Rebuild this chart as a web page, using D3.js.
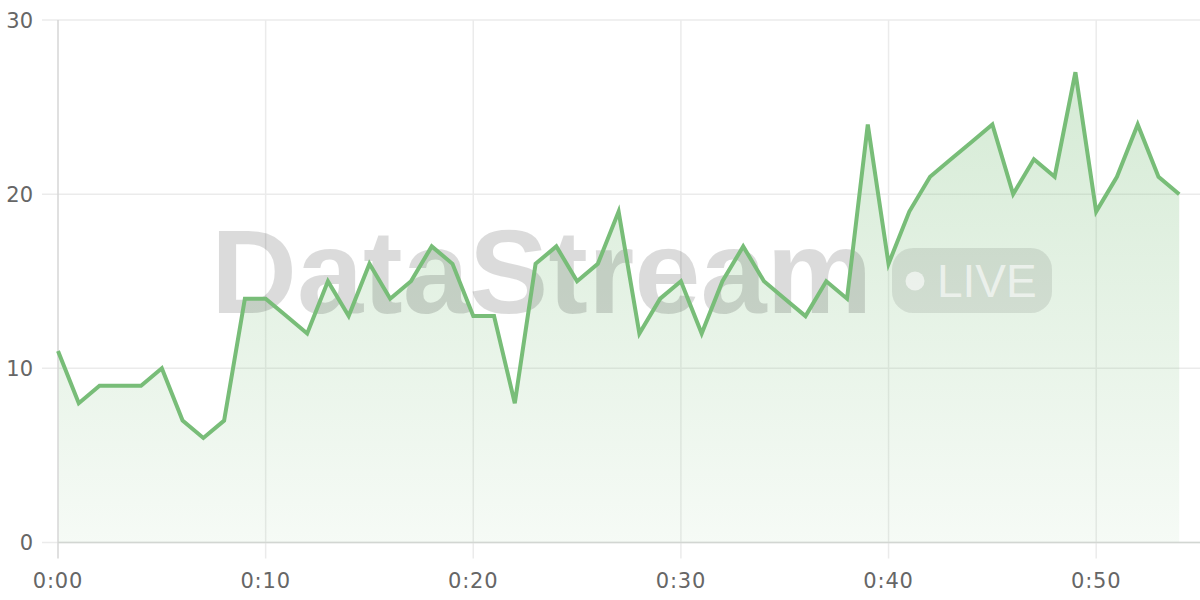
<!DOCTYPE html>
<html>
<head>
<meta charset="utf-8">
<script src="https://cdn.jsdelivr.net/npm/d3@7/dist/d3.min.js"></script>
<style>
html,body{margin:0;padding:0;background:#fff;}
svg{display:block;}
</style>
</head>
<body>
<svg id="chart" width="1200" height="600"></svg>
<script>
const minutes = d3.range(0, 55);
const values = [11,8,9,9,9,10,7,6,7,14,14,13,12,15,13,16,14,15,17,16,13,13,8,16,17,15,16,19,12,14,15,12,15,17,15,14,13,15,14,24,16,19,21,22,23,24,20,22,21,27,19,21,24,21,20];
const xTicks = [0,10,20,30,40,50];
const yTicks = [0,10,20,30];
const watermarkText = "DataStream";
const badgeText = "LIVE";

(function(){
const data = minutes.map((m,i)=>({m, v: values[i]}));
const svg = d3.select("#chart");
const mLeft = 58, mRight = 1200, mTop = 20, mBottom = 542.5;

const x = d3.scaleLinear().domain([0,55]).range([mLeft, mRight]);
const y = d3.scaleLinear().domain([0,30]).range([mBottom, mTop]);

const defs = svg.append("defs");
const grad = defs.append("linearGradient").attr("id","areaGrad")
  .attr("x1",0).attr("y1",0).attr("x2",0).attr("y2",1);
grad.append("stop").attr("offset","0%").attr("stop-color","#7cbf7c").attr("stop-opacity",0.32);
grad.append("stop").attr("offset","100%").attr("stop-color","#7cbf7c").attr("stop-opacity",0.07);

const font = "'DejaVu Sans', sans-serif";

// grid lines
svg.append("g").selectAll("line").data(yTicks).join("line")
  .attr("x1", 42).attr("x2", mRight)
  .attr("y1", d=>y(d)).attr("y2", d=>y(d))
  .attr("stroke", "#ebebeb").attr("stroke-width", 1.5);
svg.append("g").selectAll("line").data(xTicks.filter(d=>d>0)).join("line")
  .attr("x1", d=>x(d)).attr("x2", d=>x(d))
  .attr("y1", mTop).attr("y2", mBottom+16)
  .attr("stroke", "#ebebeb").attr("stroke-width", 1.5);

// area
const area = d3.area().x(d=>x(d.m)).y0(y(0)).y1(d=>y(d.v));
svg.append("path").datum(data).attr("d", area).attr("fill","url(#areaGrad)");

// watermark
const wm = svg.append("g");
wm.append("text").attr("x", 211).attr("y", 313)
  .attr("font-family","'Liberation Sans', Arial, sans-serif").attr("font-weight","bold")
  .attr("font-size", 119).attr("fill","#000").attr("fill-opacity",0.14)
  .text(watermarkText);
wm.append("rect").attr("x", 892).attr("y", 248).attr("width",160).attr("height",65)
  .attr("rx",21).attr("fill","#000").attr("fill-opacity",0.09);
wm.append("circle").attr("cx",915).attr("cy",281).attr("r",9.5)
  .attr("fill","#fff").attr("fill-opacity",0.6);
wm.append("text").attr("x",937).attr("y",297)
  .attr("font-family","'Liberation Sans', Arial, sans-serif")
  .attr("font-size",46).attr("fill","#fff").attr("fill-opacity",0.6)
  .text(badgeText);

// axes lines
svg.append("line").attr("x1", mLeft).attr("x2", mLeft).attr("y1", mTop).attr("y2", mBottom+16)
  .attr("stroke","#d6d6d6").attr("stroke-width",1.5);
svg.append("line").attr("x1", mLeft).attr("x2", mRight).attr("y1", mBottom).attr("y2", mBottom)
  .attr("stroke","#d2d6d2").attr("stroke-width",1.5);

// line
const line = d3.line().x(d=>x(d.m)).y(d=>y(d.v));
svg.append("path").datum(data).attr("d", line)
  .attr("fill","none").attr("stroke","#78bd78").attr("stroke-width",4)
  .attr("stroke-linejoin","miter");

// tick labels
svg.append("g").selectAll("text").data(yTicks).join("text")
  .attr("x", 33).attr("y", d=>y(d)).attr("dy","0.36em")
  .attr("text-anchor","end").attr("font-family",font).attr("font-size",21)
  .attr("fill","#666").text(d=>d);
const fmt = m => Math.floor(m/60) + ":" + String(m%60).padStart(2,"0");
svg.append("g").selectAll("text").data(xTicks).join("text")
  .attr("x", d=>x(d)).attr("y", 588)
  .attr("text-anchor","middle").attr("font-family",font).attr("font-size",21)
  .attr("letter-spacing","0.8px")
  .attr("fill","#666").text(d=>fmt(d));
})();
</script>
</body>
</html>
